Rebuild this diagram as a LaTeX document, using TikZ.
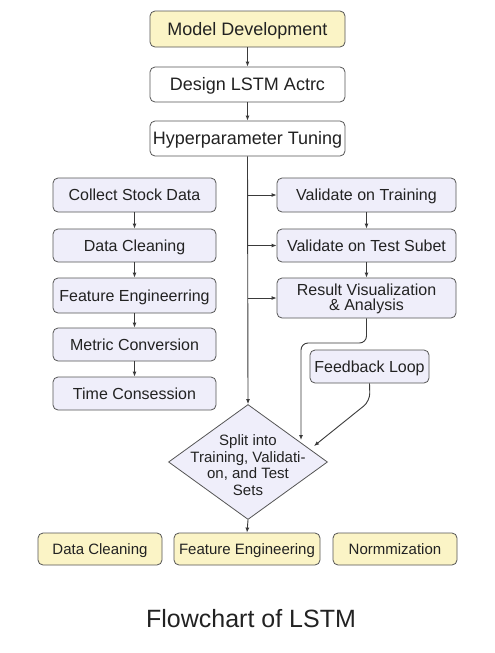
\documentclass[tikz,border=0pt]{standalone}
\usepackage{fontspec}
\setmainfont{Liberation Sans}
\usetikzlibrary{arrows.meta,shapes.geometric}
\definecolor{ylw}{HTML}{FBF4C6}
\definecolor{lav}{HTML}{EFEEFA}
\definecolor{edgec}{HTML}{555555}
\definecolor{lnc}{HTML}{3A3A3A}
\definecolor{txt}{HTML}{222222}
\begin{document}
\begin{tikzpicture}[x=1pt,y=-1pt,
  box/.style={draw=edgec, line width=0.8pt, rounded corners=5pt, inner sep=0pt, align=center, text=txt},
  sl/.style={text height=#1, text depth=0pt},
  topbox/.style={box, sl=12.9pt, minimum width=195pt, font=\fontsize{18}{20}\selectfont},
  lbox/.style={box, sl=11.5pt, fill=lav, minimum width=163pt, font=\fontsize{16}{18}\selectfont},
  rbox/.style={box, fill=lav, minimum width=179pt, font=\fontsize{16}{17}\selectfont},
  bbox/.style={box, sl=10.7pt, fill=ylw, minimum height=32pt, font=\fontsize{15}{17}\selectfont},
  arr/.style={draw=lnc, line width=0.9pt, -{Latex[length=5pt,width=4pt]}},
  ln/.style={draw=lnc, line width=0.9pt}
]
\fill[white] (0,0) rectangle (495,653);
\useasboundingbox (0,0) rectangle (495,653);

% top column
\node[topbox, fill=ylw, minimum height=36pt] (md) at (247.5,29) {Model Development};
\node[topbox, fill=white, minimum height=35pt] (dl) at (247.5,84.5) {Design LSTM Actrc};
\node[topbox, fill=white, minimum height=35pt] (hp) at (247.5,138.5) {Hyperparameter Tuning};
\draw[arr] (md.south) -- (dl.north);
\draw[arr] (dl.south) -- (hp.north);

% left column
\node[lbox, minimum height=34pt] (cs) at (134.5,195) {Collect Stock Data};
\node[lbox, minimum height=33pt] (dc1) at (134.5,245.5) {Data Cleaning};
\node[lbox, minimum height=35pt] (fe1) at (134.5,295.5) {Feature Engineerring};
\node[lbox, minimum height=33pt] (mc) at (134.5,344.5) {Metric Conversion};
\node[lbox, minimum height=33pt] (tc) at (134.5,393.5) {Time Consession};
\draw[arr] (cs.south) -- (dc1.north);
\draw[arr] (dc1.south) -- (fe1.north);
\draw[arr] (fe1.south) -- (mc.north);
\draw[arr] (mc.south) -- (tc.north);

% right column
\node[rbox, sl=11.5pt, minimum height=34pt] (vt) at (366.5,195) {Validate on Training};
\node[rbox, sl=11.5pt, minimum height=33pt] (vs) at (366.5,245.5) {Validate on Test Subet};
\node[rbox, minimum height=40pt, font=\fontsize{16}{15}\selectfont, text depth=1pt] (rv) at (366.5,298) {Result Visualization\\ \& Analysis};
\node[box, sl=11.5pt, fill=lav, minimum width=119pt, minimum height=33pt, font=\fontsize{16}{18}\selectfont] (fb) at (369.5,366.5) {Feedback Loop};
\draw[arr] (vt.south) -- (vs.north);
\draw[arr] (vs.south) -- (rv.north);

% diamond
\node[diamond, draw=edgec, line width=0.8pt, fill=lav, minimum width=159pt, minimum height=115pt, inner sep=0pt,
  label={[align=center, text=txt, font=\fontsize{15}{16.5}\selectfont, yshift=-3pt]center:{Split into\\Training, Validati-\\on, and Test\\Sets}}] (sp) at (248,462) {};

% main line and branches
\draw[arr] (hp.south) -- (sp.north);
\draw[arr] (hp.south |- vt.west) -- (vt.west);
\draw[arr] (hp.south |- vs.west) -- (vs.west);
\draw[arr] (hp.south |- rv.west) -- (rv.west);

\coordinate (in1) at (301,440);
\coordinate (in2) at (314,446);
\draw[arr, rounded corners=7pt] (rv.south) -- (366.5,343) -- (301,343) -- (in1);
\draw[arr, rounded corners=8pt] (fb.south) -- (370,401) -- (in2);

% bottom boxes
\node[bbox, minimum width=124pt] (dc2) at (100,549) {Data Cleaning};
\node[bbox, minimum width=146pt] (fe2) at (247,549) {Feature Engineering};
\node[bbox, minimum width=124pt] (nm) at (395,549) {Normmization};
\draw[arr] (sp.south) -- (fe2.north);

% title
\node[text=txt, font=\fontsize{25}{28}\selectfont] (title) at (251,619) {Flowchart of LSTM};
\end{tikzpicture}
\end{document}
